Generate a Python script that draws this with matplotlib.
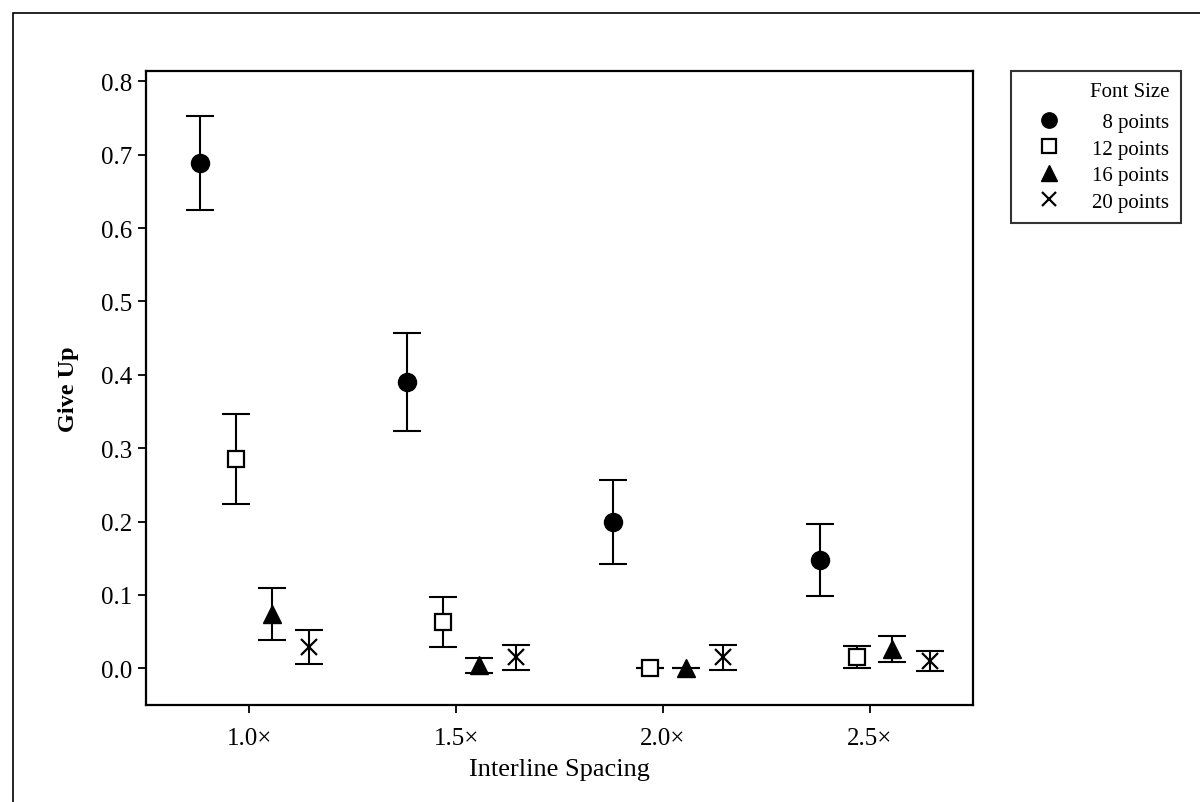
import matplotlib
matplotlib.use("Agg")
import matplotlib.pyplot as plt
from matplotlib.patches import Rectangle
import numpy as np

# values
spacing_labels = ["1.0\u00d7", "1.5\u00d7", "2.0\u00d7", "2.5\u00d7"]
font_sizes = ["\u20078 points", "12 points", "16 points", "20 points"]

mean_8 = [0.689, 0.390, 0.199, 0.148]
mean_12 = [0.285, 0.063, 0.000, 0.015]
mean_16 = [0.074, 0.004, 0.001, 0.026]
mean_20 = [0.029, 0.015, 0.015, 0.010]

err_8 = [0.064, 0.067, 0.057, 0.049]
err_12 = [0.061, 0.034, 0.000, 0.015]
err_16 = [0.036, 0.010, 0.000, 0.018]
err_20 = [0.023, 0.017, 0.017, 0.014]

plt.rcParams['font.family'] = ['Liberation Serif', 'DejaVu Serif']

fig = plt.figure(figsize=(12, 8.03), dpi=100)
ax = fig.add_axes([146 / 1200, 1 - 706 / 803, (973 - 146) / 1200, (706 - 72) / 803])

x = np.arange(1, 5)
series = [
    (mean_8, err_8, -0.24, dict(marker='o', ms=13, mfc='black', mec='black')),
    (mean_12, err_12, -0.063, dict(marker='s', ms=12, mfc='white', mec='black', mew=1.6)),
    (mean_16, err_16, 0.11, dict(marker='^', ms=13, mfc='black', mec='black')),
    (mean_20, err_20, 0.29, dict(marker='x', ms=12, mec='black', mew=1.6)),
]
handles = []
for (m, e, off, style), lab in zip(series, font_sizes):
    ax.errorbar(x + off, m, yerr=e, fmt='none', ecolor='black',
                elinewidth=1.5, capsize=10, capthick=1.5, zorder=2)
    p, = ax.plot(x + off, m, linestyle='none', label=lab, zorder=3, **style)
    handles.append(p)

ax.set_xlim(0.5, 4.5)
ax.set_ylim(-0.05, 0.814)
ax.set_xticks(x)
ax.set_xticklabels(spacing_labels)
ax.set_yticks(np.arange(0, 0.81, 0.1))
ax.set_yticklabels(["%.1f" % v for v in np.arange(0, 0.81, 0.1)])
ax.tick_params(axis='y', direction='out', length=6, width=1.3, labelsize=18, pad=4)
ax.tick_params(axis='x', direction='out', length=6, width=1.3, labelsize=18, pad=10)
for s in ax.spines.values():
    s.set_linewidth(1.6)

ax.set_xlabel("Interline Spacing", fontsize=19, labelpad=6)
ax.set_ylabel("Give Up", fontsize=17.5, fontweight='bold', labelpad=16)

leg = fig.legend(handles=handles, labels=font_sizes, title="Font Size",
                 loc='upper left', bbox_to_anchor=(1011 / 1200, 1 - 72 / 803),
                 borderaxespad=0, frameon=True, fancybox=False, edgecolor='black',
                 fontsize=15, title_fontsize=15, alignment='right', markerscale=0.85,
                 handletextpad=0.85, labelspacing=0.33, borderpad=0.55, handlelength=2.5)
leg.get_frame().set_linewidth(1.5)
leg._legend_box.sep = 8

# outer frame
fig.patches.append(Rectangle((13 / 1200, -0.2), 1.2, 0.2 + 1 - 14 / 803,
                             transform=fig.transFigure, fill=False,
                             edgecolor='black', linewidth=1.2))

plt.savefig('out.png', dpi=100)
